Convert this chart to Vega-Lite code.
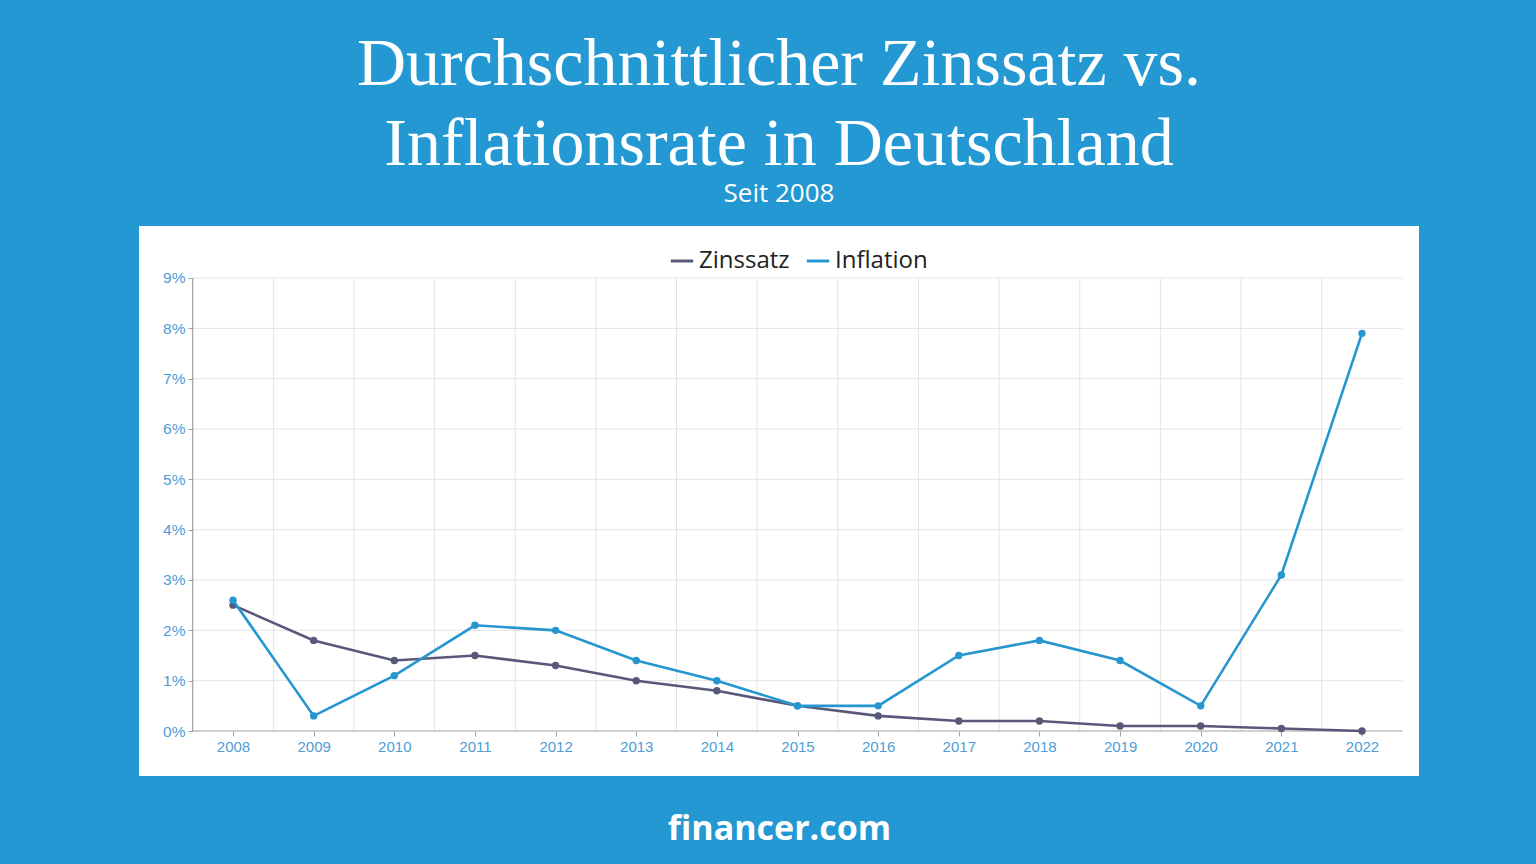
{
  "$schema": "https://vega.github.io/schema/vega-lite/v6.json",
  "width": 1280,
  "height": 550,
  "autosize": {"type": "none"},
  "padding": {"left": 139, "top": 226, "right": 117, "bottom": 88},
  "background": "#2398d2",
  "config": {
    "view": {"fill": "white", "stroke": null},
    "font": "Liberation Sans"
  },
  "title": {
    "text": ["Durchschnittlicher Zinssatz vs.", "Inflationsrate in Deutschland"],
    "subtitle": "Seit 2008",
    "font": "Liberation Serif",
    "fontSize": 68,
    "fontWeight": "normal",
    "color": "white",
    "lineHeight": 80,
    "subtitleFont": "Open Sans",
    "subtitleFontSize": 26,
    "subtitleColor": "white",
    "subtitlePadding": 2,
    "anchor": "middle",
    "frame": "group",
    "offset": 19
  },
  "datasets": {
    "rates": [
      {"year": 2008, "series": "Zinssatz", "rate": 2.5},
      {"year": 2009, "series": "Zinssatz", "rate": 1.8},
      {"year": 2010, "series": "Zinssatz", "rate": 1.4},
      {"year": 2011, "series": "Zinssatz", "rate": 1.5},
      {"year": 2012, "series": "Zinssatz", "rate": 1.3},
      {"year": 2013, "series": "Zinssatz", "rate": 1.0},
      {"year": 2014, "series": "Zinssatz", "rate": 0.8},
      {"year": 2015, "series": "Zinssatz", "rate": 0.5},
      {"year": 2016, "series": "Zinssatz", "rate": 0.3},
      {"year": 2017, "series": "Zinssatz", "rate": 0.2},
      {"year": 2018, "series": "Zinssatz", "rate": 0.2},
      {"year": 2019, "series": "Zinssatz", "rate": 0.1},
      {"year": 2020, "series": "Zinssatz", "rate": 0.1},
      {"year": 2021, "series": "Zinssatz", "rate": 0.05},
      {"year": 2022, "series": "Zinssatz", "rate": 0.0},
      {"year": 2008, "series": "Inflation", "rate": 2.6},
      {"year": 2009, "series": "Inflation", "rate": 0.3},
      {"year": 2010, "series": "Inflation", "rate": 1.1},
      {"year": 2011, "series": "Inflation", "rate": 2.1},
      {"year": 2012, "series": "Inflation", "rate": 2.0},
      {"year": 2013, "series": "Inflation", "rate": 1.4},
      {"year": 2014, "series": "Inflation", "rate": 1.0},
      {"year": 2015, "series": "Inflation", "rate": 0.5},
      {"year": 2016, "series": "Inflation", "rate": 0.5},
      {"year": 2017, "series": "Inflation", "rate": 1.5},
      {"year": 2018, "series": "Inflation", "rate": 1.8},
      {"year": 2019, "series": "Inflation", "rate": 1.4},
      {"year": 2020, "series": "Inflation", "rate": 0.5},
      {"year": 2021, "series": "Inflation", "rate": 3.1},
      {"year": 2022, "series": "Inflation", "rate": 7.9}
    ],
    "ygrid": [
      {"v": 1}, {"v": 2}, {"v": 3}, {"v": 4}, {"v": 5}, {"v": 6}, {"v": 7}, {"v": 8}, {"v": 9}
    ],
    "xgrid": [
      {"v": 2008.5}, {"v": 2009.5}, {"v": 2010.5}, {"v": 2011.5}, {"v": 2012.5},
      {"v": 2013.5}, {"v": 2014.5}, {"v": 2015.5}, {"v": 2016.5}, {"v": 2017.5},
      {"v": 2018.5}, {"v": 2019.5}, {"v": 2020.5}, {"v": 2021.5}
    ],
    "one": [{"k": 1}]
  },
  "layer": [
    {
      "data": {"name": "ygrid"},
      "mark": {"type": "rule", "color": "#e4e4e4", "strokeWidth": 1},
      "encoding": {
        "y": {"field": "v", "type": "quantitative", "scale": {"domain": [-0.894, 10.033], "nice": false, "zero": false}},
        "x": {"datum": 2007.5, "type": "quantitative", "scale": {"domain": [2006.834, 2022.707], "nice": false, "zero": false}},
        "x2": {"datum": 2022.5}
      }
    },
    {
      "data": {"name": "xgrid"},
      "mark": {"type": "rule", "color": "#e4e4e4", "strokeWidth": 1},
      "encoding": {
        "x": {"field": "v", "type": "quantitative", "scale": {"domain": [2006.834, 2022.707], "nice": false, "zero": false}},
        "y": {"datum": 0, "type": "quantitative", "scale": {"domain": [-0.894, 10.033], "nice": false, "zero": false}},
        "y2": {"datum": 9}
      }
    },
    {
      "data": {"name": "one"},
      "mark": {"type": "rule", "color": "#a0a0a0", "strokeWidth": 1.2},
      "encoding": {
        "x": {"datum": 2007.5, "type": "quantitative", "scale": {"domain": [2006.834, 2022.707], "nice": false, "zero": false}},
        "y": {"datum": 0, "type": "quantitative", "scale": {"domain": [-0.894, 10.033], "nice": false, "zero": false}},
        "y2": {"datum": 9}
      }
    },
    {
      "data": {"name": "one"},
      "mark": {"type": "rule", "color": "#a0a0a0", "strokeWidth": 1.2},
      "encoding": {
        "y": {"datum": 0, "type": "quantitative", "scale": {"domain": [-0.894, 10.033], "nice": false, "zero": false}},
        "x": {"datum": 2007.5, "type": "quantitative", "scale": {"domain": [2006.834, 2022.707], "nice": false, "zero": false}},
        "x2": {"datum": 2022.5}
      }
    },
    {
      "data": {"name": "rates"},
      "transform": [{"filter": "datum.series === 'Zinssatz'"}],
      "mark": {"type": "line", "strokeWidth": 2.6, "point": {"filled": true, "size": 55}},
      "encoding": {
        "x": {
          "field": "year", "type": "quantitative",
          "scale": {"domain": [2006.834, 2022.707], "nice": false, "zero": false},
          "axis": {
            "values": [2008, 2009, 2010, 2011, 2012, 2013, 2014, 2015, 2016, 2017, 2018, 2019, 2020, 2021, 2022],
            "format": "d",
            "offset": -45,
            "domain": false,
            "grid": false,
            "ticks": true,
            "tickSize": 5,
            "tickColor": "#a0a0a0",
            "labelColor": "#4e9dd6",
            "labelFont": "Liberation Sans",
            "labelFontSize": 15,
            "labelPadding": 3,
            "labelFlush": false,
            "labelOverlap": false,
            "title": "financer.com",
            "titleColor": "white",
            "titleFont": "Open Sans",
            "titleFontSize": 34,
            "titleFontWeight": "bold",
            "titlePadding": 58
          }
        },
        "y": {
          "field": "rate", "type": "quantitative",
          "scale": {"domain": [-0.894, 10.033], "nice": false, "zero": false},
          "axis": {
            "values": [0, 1, 2, 3, 4, 5, 6, 7, 8, 9],
            "offset": -54,
            "domain": false,
            "grid": false,
            "tickSize": 5,
            "tickColor": "#a0a0a0",
            "labelExpr": "datum.value + '%'",
            "labelColor": "#4e9dd6",
            "labelFont": "Liberation Sans",
            "labelFontSize": 15.5,
            "labelPadding": 3,
            "labelFlush": false,
            "labelOverlap": false,
            "title": null
          }
        },
        "color": {
          "field": "series", "type": "nominal",
          "scale": {"domain": ["Zinssatz", "Inflation"], "range": ["#58597a", "#2596cf"]},
          "legend": {
            "orient": "none",
            "legendX": 530,
            "legendY": 22,
            "direction": "horizontal",
            "title": null,
            "symbolType": "stroke",
            "symbolStrokeWidth": 3,
            "symbolSize": 500,
            "labelFont": "Open Sans",
            "labelFontSize": 24,
            "labelColor": "#222222",
            "labelOffset": 4,
            "columnPadding": 10
          }
        }
      }
    },
    {
      "data": {"name": "rates"},
      "transform": [{"filter": "datum.series === 'Inflation'"}],
      "mark": {"type": "line", "strokeWidth": 2.6, "point": {"filled": true, "size": 55}},
      "encoding": {
        "x": {"field": "year", "type": "quantitative", "scale": {"domain": [2006.834, 2022.707], "nice": false, "zero": false}},
        "y": {"field": "rate", "type": "quantitative", "scale": {"domain": [-0.894, 10.033], "nice": false, "zero": false}},
        "color": {"field": "series", "type": "nominal", "scale": {"domain": ["Zinssatz", "Inflation"], "range": ["#58597a", "#2596cf"]}}
      }
    }
  ]
}
